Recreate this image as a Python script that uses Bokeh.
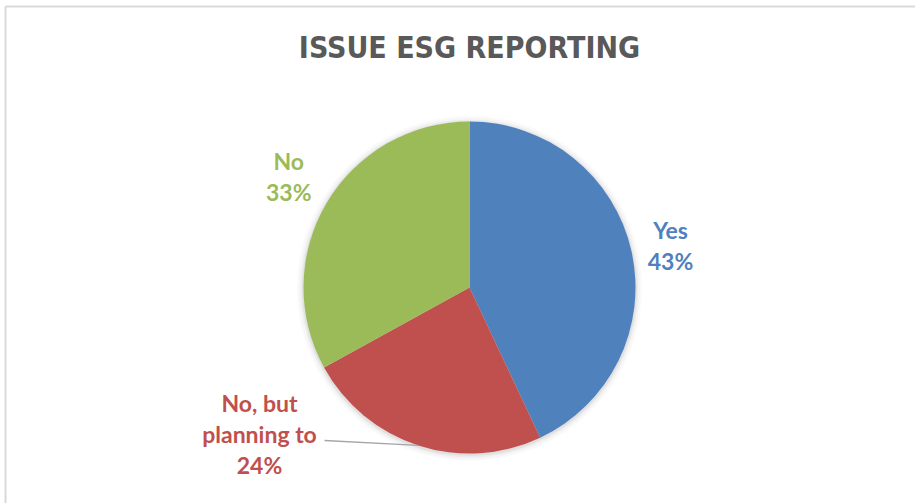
import numpy as np
from bokeh.plotting import figure
from bokeh.models import ColumnDataSource, Range1d
from bokeh.core.properties import value
from bokeh.embed import file_html
from bokeh.resources import INLINE

# ---- data ----
categories = ["Yes", "No, but planning to", "No"]
shares = [43, 24, 33]
colors = ["#4F81BD", "#C0504D", "#9BBB59"]
label_lines = [["Yes", "43%"], ["No, but", "planning to", "24%"], ["No", "33%"]]
title_text = "ISSUE ESG REPORTING"

# ---- layout ----
W, H = 915, 503
CX, CY = 469, 287          # pie centre, pixels from top-left
R = 166
LINE_SP = 31
FONT = "Lato"

p = figure(width=W, height=H, output_backend="svg", toolbar_location=None,
           x_range=Range1d(-CX, W - CX), y_range=Range1d(-(H - CY), CY),
           x_axis_type=None, y_axis_type=None, min_border=0,
           outline_line_color=None, background_fill_color="white",
           border_fill_color="white")
p.grid.visible = False

# chart border (top and left visible)
p.segment(x0=[-CX + 5, -CX + 5], y0=[CY - 6, CY - 6], x1=[-CX + 5, W - CX], y1=[-(H - CY), CY - 6],
          line_color="#d9d9d9", line_width=2)

# soft shadow
for k, a in [(7, 0.015), (5, 0.025), (3, 0.035), (1.5, 0.05)]:
    p.circle(x=[0], y=[-1], radius=R + k, fill_color="black", fill_alpha=a, line_color=None)

frac = np.array(shares, dtype=float) / sum(shares)
cum = np.cumsum(frac)
start = np.pi / 2 - 2 * np.pi * (cum - frac)
end = np.pi / 2 - 2 * np.pi * cum
mid = (start + end) / 2

src = ColumnDataSource(dict(cat=categories, start=start, end=end, color=colors))
p.wedge(x=0, y=0, radius=R, start_angle="start", end_angle="end", direction="clock",
        fill_color="color", line_color="white", line_width=0, source=src)

# labels
anchors = {}
anchors["Yes"] = (206 * np.cos(mid[0]), 206 * np.sin(mid[0]) - 3)
anchors["No"] = (210 * np.cos(mid[2]), 210 * np.sin(mid[2]) + 4)
anchors["No, but planning to"] = (-210, -146)

tx, ty, tt, tc = [], [], [], []
for cat, lines, col in zip(categories, label_lines, colors):
    ax, ay = anchors[cat]
    n = len(lines)
    for i, ln in enumerate(lines):
        tx.append(ax)
        ty.append(ay + ((n - 1) / 2 - i) * LINE_SP)
        tt.append(ln)
        tc.append(col)
p.text(x=tx, y=ty, text=tt, text_color=tc, text_font=value(FONT), text_font_style="bold",
       text_font_size="23px", text_align="center", text_baseline="middle")

# leader line for the displaced label
i_red = categories.index("No, but planning to")
p.line(x=[-145, R * np.cos(mid[i_red])], y=[-153, R * np.sin(mid[i_red])],
       line_color="#a6a6a6", line_width=1.5)

# title
p.text(x=[0], y=[CY - 47], text=[title_text], text_color="#595959",
       text_font=value("DejaVu Sans Condensed"), text_font_style="bold",
       text_font_size="30px", text_align="center", text_baseline="middle")

open("out.html", "w").write(file_html(p, INLINE))
